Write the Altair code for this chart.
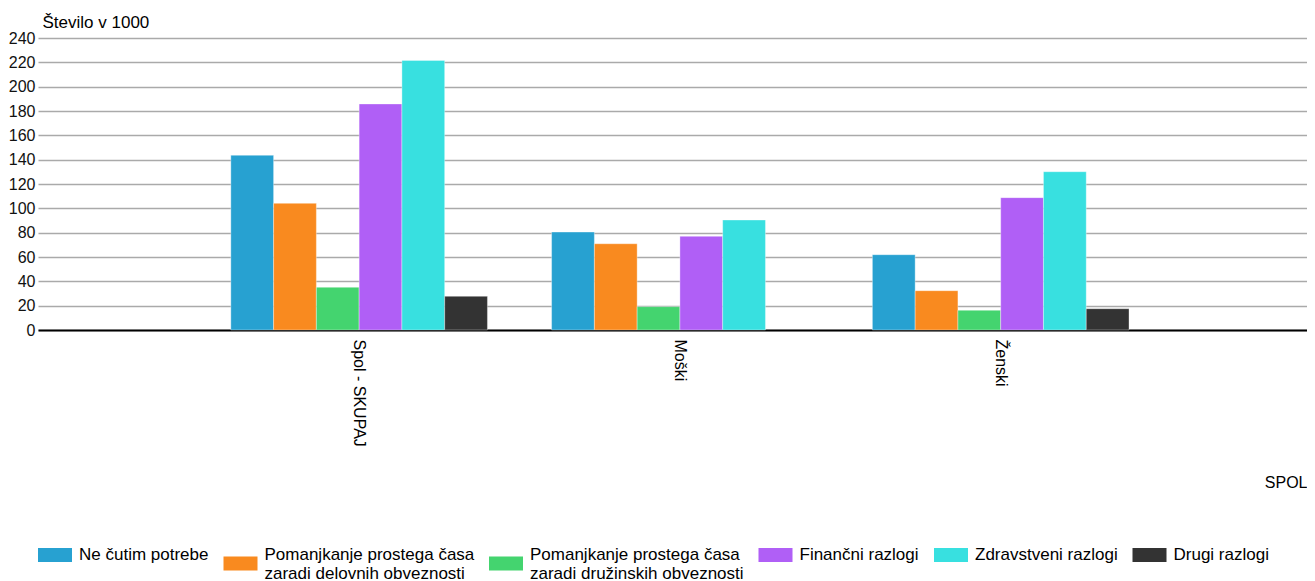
import altair as alt
import pandas as pd

groups = ["Spol - SKUPAJ", "Moški", "Ženski"]
reasons = [
    "Ne čutim potrebe",
    "Pomanjkanje prostega časa zaradi delovnih obveznosti",
    "Pomanjkanje prostega časa zaradi družinskih obveznosti",
    "Finančni razlogi",
    "Zdravstveni razlogi",
    "Drugi razlogi",
]
skupaj = [143.6, 104.1, 35.1, 185.8, 221.6, 27.7]
moski = [80.5, 70.9, 19.2, 77.0, 90.4, None]
zenski = [61.9, 32.3, 16.2, 108.8, 130.1, 17.5]
colors = ["#27A1D1", "#F98A1F", "#44D46F", "#B05FF6", "#38E0E0", "#333333"]
y_ticks = list(range(0, 241, 20))

# legend swatches: two-line entries get their swatch centred between the lines
swatch_one_line = "M-1,-0.41H1V0.41H-1Z"
swatch_two_lines = "M-1,0.09H1V0.91H-1Z"
swatches = [swatch_two_lines if " zaradi" in r else swatch_one_line for r in reasons]

rows = []
for g, vals in zip(groups, [skupaj, moski, zenski]):
    for r, v in zip(reasons, vals):
        if v is not None:
            rows.append({"spol": g, "razlog": r, "vrednost": v})
df = pd.DataFrame(rows)

FONT = "Liberation Sans"
W, H = 1269, 292

label_expr = (
    "indexof(datum.label, ' zaradi') > 0 ? "
    "[slice(datum.label, 0, indexof(datum.label, ' zaradi')), "
    "slice(datum.label, indexof(datum.label, ' zaradi') + 1)] : [datum.label, '']"
)

legend = alt.Legend(
    title=None,
    orient="none",
    legendX=0,
    legendY=500,
    direction="horizontal",
    columns=6,
    symbolSize=1156,
    symbolStrokeWidth=0,
    symbolOpacity=1,
    labelFontSize=17,
    labelColor="#000000",
    labelOffset=7,
    labelLimit=0,
    columnPadding=14.5,
    padding=0,
    labelExpr=label_expr,
)

x_enc = alt.X(
    "spol:N",
    sort=groups,
    scale=alt.Scale(paddingInner=0.2, paddingOuter=0.578, align=0.52),
    axis=alt.Axis(
        title="SPOL",
        labelAngle=90,
        labelFontSize=16,
        labelColor="#000000",
        labelPadding=9,
        ticks=False,
        domainColor="#000000",
        domainWidth=2,
        titleX=W,
        titleY=152,
        titleAlign="right",
        titleBaseline="middle",
        titleFontSize=16,
        titleFontWeight="normal",
        titleColor="#000000",
    ),
)
xoff_enc = alt.XOffset("razlog:N", sort=reasons, scale=alt.Scale(paddingInner=0, paddingOuter=0))
y_enc = alt.Y(
    "vrednost:Q",
    scale=alt.Scale(domain=[0, 240], nice=False),
    axis=alt.Axis(
        title="Število v 1000",
        values=y_ticks,
        titleAngle=0,
        titleX=4,
        titleY=-16,
        titleAlign="left",
        titleBaseline="middle",
        titleFontSize=17,
        titleFontWeight="normal",
        titleColor="#000000",
        domain=False,
        ticks=False,
        labelFontSize=16,
        labelColor="#111111",
        labelPadding=3,
        gridColor="#aaaaaa",
        gridWidth=1.5,
    ),
)
color_enc = alt.Color("razlog:N", sort=reasons, scale=alt.Scale(domain=reasons, range=colors), legend=legend)
shape_enc = alt.Shape("razlog:N", sort=reasons, scale=alt.Scale(domain=reasons, range=swatches), legend=legend)

base = alt.Chart(df)
bars = base.mark_bar(stroke="#ffffff", strokeOpacity=0.35, strokeWidth=1).encode(
    x=x_enc, xOffset=xoff_enc, y=y_enc, color=color_enc
)
keys = base.mark_point(filled=True, opacity=0, size=0).encode(
    x=x_enc, xOffset=xoff_enc, y=y_enc, color=color_enc, shape=shape_enc
)

chart = (
    alt.layer(bars, keys)
    .properties(
        width=W,
        height=H,
        autosize=alt.AutoSizeParams(type="none"),
        padding={"left": 30, "top": 30, "right": 0, "bottom": 251},
    )
    .configure(font=FONT)
    .configure_view(stroke=None)
)

chart.save("out.html", embed_options={"renderer": "svg", "actions": False})
